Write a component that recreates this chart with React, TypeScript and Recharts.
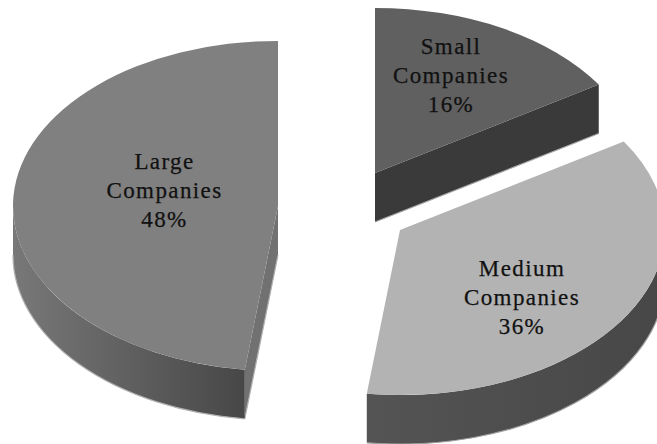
import { Pie, PieChart } from "recharts";

const CATEGORIES = ["Small Companies", "Medium Companies", "Large Companies"];
const SHARES = [16, 36, 48];
const TOP_COLORS = ["#606060", "#b3b3b3", "#808080"];

const chartData = CATEGORIES.map((name, i) => ({
  name,
  value: SHARES[i],
  fill: TOP_COLORS[i],
}));

const WIDTH = 657;
const HEIGHT = 444;
const PIE_CX = 278;
const PIE_CY = 206;
const RADIUS = 265;
const SQUASH = 0.623;
const DEPTH = 49;
const LABEL_FONT = "'Liberation Serif', serif";

// exploded offsets, label anchors and side shading for each slice
const SLICE_STYLE: Record<
  string,
  {
    dx: number;
    dy: number;
    labelX: number;
    labelY: number;
    wall: [string, string];
    cut: string;
    edge: string;
  }
> = {
  "Small Companies": {
    dx: 97,
    dy: -33,
    labelX: 451,
    labelY: 54,
    wall: ["#3a3a3a", "#3a3a3a"],
    cut: "#3a3a3a",
    edge: "#a8a8a8",
  },
  "Medium Companies": {
    dx: 122,
    dy: 24,
    labelX: 522,
    labelY: 276,
    wall: ["#545454", "#474747"],
    cut: "#474747",
    edge: "#a0a0a0",
  },
  "Large Companies": {
    dx: 0,
    dy: 0,
    labelX: 164.5,
    labelY: 169,
    wall: ["#787878", "#474747"],
    cut: "#717171",
    edge: "#b0b0b0",
  },
};

// clockwise from twelve o'clock, in degrees
const toClock = (angle: number) => 90 - angle;

function rim(cx: number, cy: number, clock: number, drop = 0) {
  const rad = (clock * Math.PI) / 180;
  return {
    x: cx + RADIUS * Math.sin(rad),
    y: cy - RADIUS * SQUASH * Math.cos(rad) + drop,
  };
}

function arc(to: { x: number; y: number }, from: number, end: number, sweep: 0 | 1) {
  const large = Math.abs(end - from) > 180 ? 1 : 0;
  return `A ${RADIUS} ${RADIUS * SQUASH} 0 ${large} ${sweep} ${to.x} ${to.y}`;
}

function Slice3D(props: any) {
  const style = SLICE_STYLE[props.name];
  const cx = props.cx + style.dx;
  const cy = props.cy + style.dy;
  const a = toClock(props.startAngle);
  const b = toClock(props.endAngle);
  const p0 = rim(cx, cy, a);
  const p1 = rim(cx, cy, b);
  const gradId = `wall-${props.index}`;

  const top = `M ${cx} ${cy} L ${p0.x} ${p0.y} ${arc(p1, a, b, 1)} Z`;

  // outer wall only shows on the front half of the ellipse
  const wa = Math.max(a, 90);
  const wb = Math.min(b, 270);
  let wall = "";
  let wallEdge = "";
  let x0 = 0;
  let x1 = 1;
  if (wb > wa) {
    const w0 = rim(cx, cy, wa);
    const w1 = rim(cx, cy, wb);
    const d0 = rim(cx, cy, wa, DEPTH);
    const d1 = rim(cx, cy, wb, DEPTH);
    wall = `M ${w0.x} ${w0.y} ${arc(w1, wa, wb, 1)} L ${d1.x} ${d1.y} ${arc(d0, wb, wa, 0)} Z`;
    wallEdge = `M ${d0.x} ${d0.y} ${arc(d1, wa, wb, 1)}`;
    x0 = Math.min(w0.x, w1.x);
    x1 = Math.max(w0.x, w1.x);
  }

  const cuts: string[] = [];
  const cutEdges: string[] = [];
  const cutFace = (p: { x: number; y: number }) => {
    cuts.push(
      `M ${cx} ${cy} L ${p.x} ${p.y} L ${p.x} ${p.y + DEPTH} L ${cx} ${cy + DEPTH} Z`
    );
    cutEdges.push(`M ${cx} ${cy + DEPTH} L ${p.x} ${p.y + DEPTH}`);
  };
  if (Math.sin((a * Math.PI) / 180) < -1e-6) cutFace(p0);
  if (Math.sin((b * Math.PI) / 180) > 1e-6) cutFace(p1);

  return (
    <g>
      <defs>
        <linearGradient id={gradId} gradientUnits="userSpaceOnUse" x1={x0} x2={x1} y1={0} y2={0}>
          <stop offset="0" stopColor={style.wall[0]} />
          <stop offset="1" stopColor={style.wall[1]} />
        </linearGradient>
      </defs>
      {cuts.map((d, i) => (
        <path key={i} d={d} fill={style.cut} />
      ))}
      {cutEdges.map((d, i) => (
        <path key={i} d={d} fill="none" stroke={style.edge} strokeWidth={1.2} />
      ))}
      {wall && <path d={wall} fill={`url(#${gradId})`} />}
      {wallEdge && <path d={wallEdge} fill="none" stroke={style.edge} strokeWidth={1.2} />}
      <path d={top} fill={props.fill} />
    </g>
  );
}

function SliceLabel(props: any) {
  const style = SLICE_STYLE[props.name];
  const lines = [...String(props.name).split(" "), `${props.value}%`];
  return (
    <text
      x={style.labelX}
      y={style.labelY}
      textAnchor="middle"
      fill="#111111"
      stroke="#111111"
      strokeWidth={0.25}
      fontFamily={LABEL_FONT}
      fontSize={23}
      letterSpacing={1.4}
    >
      {lines.map((line, i) => (
        <tspan key={line} x={style.labelX} dy={i === 0 ? 0 : 29.2}>
          {line}
        </tspan>
      ))}
    </text>
  );
}

export default function App() {
  return (
    <div style={{ position: "absolute", left: 0, top: 0, width: WIDTH, height: HEIGHT, overflow: "hidden" }}>
      <PieChart width={WIDTH} height={HEIGHT} margin={{ top: 0, right: 0, bottom: 0, left: 0 }}>
        <Pie
          data={chartData}
          dataKey="value"
          nameKey="name"
          cx={PIE_CX}
          cy={PIE_CY}
          innerRadius={0}
          outerRadius={RADIUS}
          startAngle={90}
          endAngle={-270}
          stroke="none"
          shape={Slice3D}
          label={SliceLabel}
          labelLine={false}
          isAnimationActive={false}
        />
      </PieChart>
    </div>
  );
}
